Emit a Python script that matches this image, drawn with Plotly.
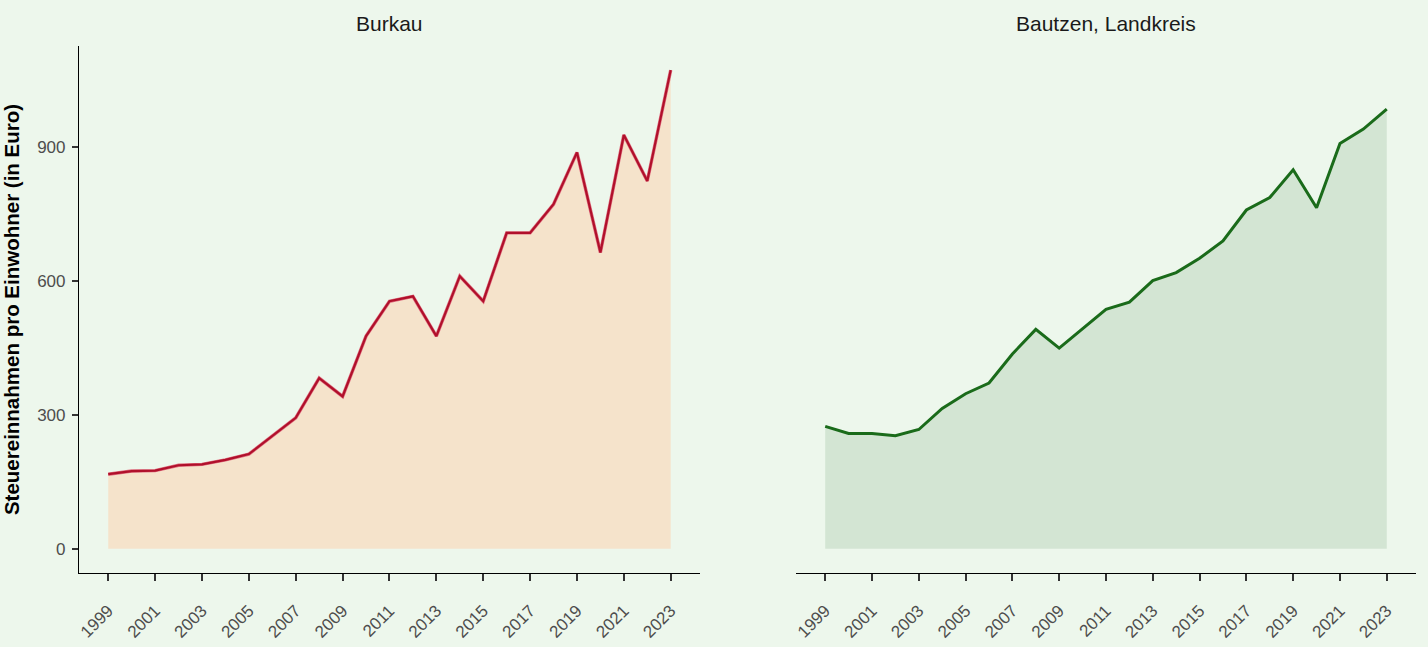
import plotly.graph_objects as go

years = list(range(1999, 2024))
burkau = [167, 174, 175, 187, 189, 199, 212, 253, 293, 382, 341, 476, 554, 565, 476,
          610, 554, 707, 707, 771, 887, 663, 926, 823, 1071]
bautzen = [274, 258, 258, 253, 267, 314, 347, 371, 436, 491, 449, 492, 536, 552, 600,
           618, 650, 689, 758, 786, 848, 763, 907, 939, 984]
panel_titles = ["Burkau", "Bautzen, Landkreis"]
y_title = "Steuereinnahmen pro Einwohner (in Euro)"
x_ticks = list(range(1999, 2024, 2))
y_ticks = [0, 300, 600, 900]

BG = "#edf7ec"
FONT = "Liberation Sans, Arial, sans-serif"

fig = go.Figure()

# Left panel (Burkau)
fig.add_trace(go.Scatter(x=years, y=burkau, fill="tozeroy", fillcolor="#f5e3cb",
                         mode="lines", line=dict(color="#e07080", width=3.4),
                         xaxis="x", yaxis="y", hoverinfo="skip", showlegend=False))
fig.add_trace(go.Scatter(x=years, y=burkau, mode="lines",
                         line=dict(color="#b0102b", width=2.2),
                         xaxis="x", yaxis="y", showlegend=False))

# Right panel (Bautzen)
fig.add_trace(go.Scatter(x=years, y=bautzen, fill="tozeroy", fillcolor="#d3e5d3",
                         mode="lines", line=dict(color="#1a6b1a", width=3),
                         xaxis="x2", yaxis="y2", showlegend=False))

xr = [1997.75, 2024.25]
yr = [-54, 1125]

common_x = dict(range=xr, tickvals=x_ticks, ticktext=[str(t) for t in x_ticks],
                tickangle=-45, ticks="outside", ticklen=7, tickwidth=1.6,
                tickcolor="#333333", showline=True, linecolor="#000000", linewidth=1.1,
                showgrid=False, zeroline=False, ticklabelstandoff=13, automargin=False,
                tickfont=dict(family=FONT, size=17, color="#4d4d4d"))

fig.update_layout(
    width=1428, height=647,
    paper_bgcolor=BG, plot_bgcolor=BG,
    margin=dict(l=0, r=0, t=0, b=0),
    font=dict(family=FONT),
    xaxis=dict(domain=[0.0553, 0.4902], anchor="y", **common_x),
    xaxis2=dict(domain=[0.5574, 0.9916], anchor="y2", **common_x),
    yaxis=dict(domain=[0.1144, 0.9289], range=yr, tickvals=y_ticks,
               ticks="outside", ticklen=6, tickwidth=1.6, tickcolor="#333333",
               showline=True, linecolor="#000000", linewidth=1.1,
               showgrid=False, zeroline=False, ticklabelstandoff=3, automargin=False,
               tickfont=dict(family=FONT, size=17, color="#4d4d4d"),
               title=dict(text=y_title, standoff=12,
                          font=dict(family=FONT, size=20.5, color="#000000", weight="bold"))),
    yaxis2=dict(domain=[0.1144, 0.9289], range=yr, anchor="x2", automargin=False,
                showline=False, showticklabels=False, ticks="",
                showgrid=False, zeroline=False),
    annotations=[
        dict(text=panel_titles[0], x=0.2727, y=1 - 24 / 647, xref="paper", yref="paper",
             showarrow=False, xanchor="center", yanchor="middle",
             font=dict(family=FONT, size=21, color="#1a1a1a")),
        dict(text=panel_titles[1], x=0.7745, y=1 - 24 / 647, xref="paper", yref="paper",
             showarrow=False, xanchor="center", yanchor="middle",
             font=dict(family=FONT, size=21, color="#1a1a1a")),
    ],
)

fig.write_html("out.html", config={"displayModeBar": False},
               post_script="document.body.style.margin='0';")
